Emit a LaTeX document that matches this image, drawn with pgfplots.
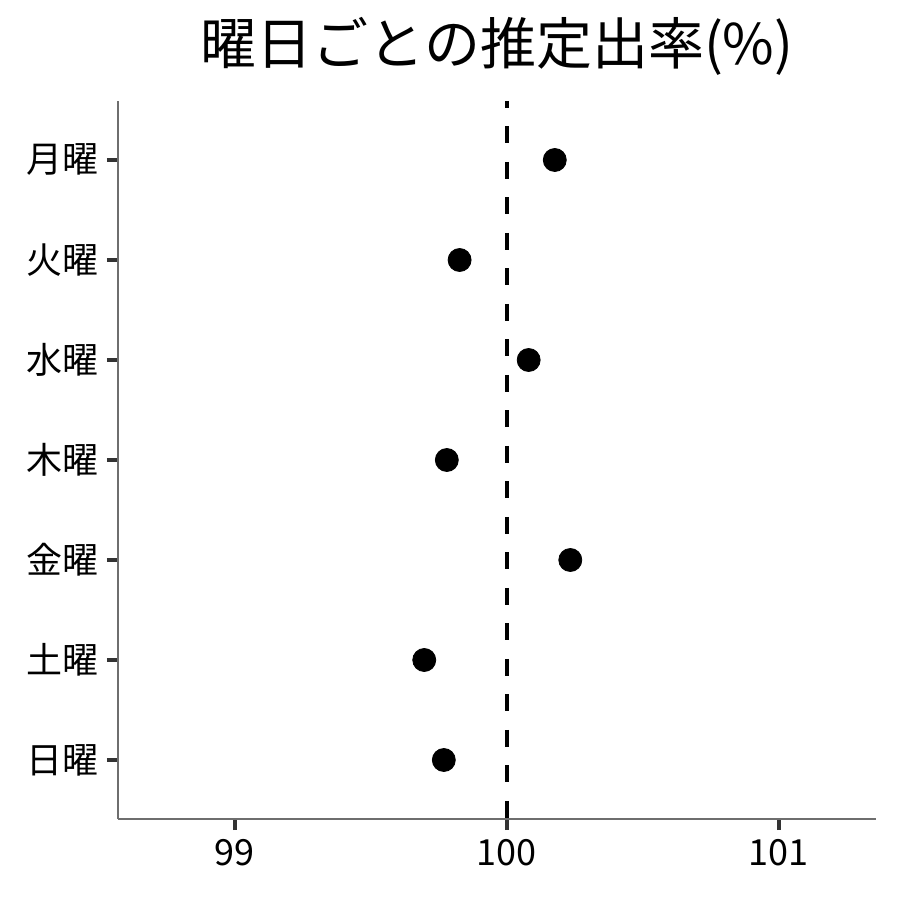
\documentclass[border=0pt]{standalone}
\usepackage{fontspec}
\setmainfont{Noto Sans CJK JP}
\usepackage{pgfplots}
\pgfplotsset{compat=1.18}
\definecolor{axisgray}{HTML}{6E6E6E}
\definecolor{tickgray}{HTML}{333333}

\begin{document}
\begin{tikzpicture}
\begin{axis}[
    name=ax,
    at={(0,0)}, anchor=south west,
    scale only axis,
    width=379pt, height=359pt,
    xmin=98.57, xmax=101.357,
    ymin=0.41, ymax=7.59,
    axis x line*=bottom,
    axis y line*=left,
    axis line style={axisgray, line width=0.65pt},
    xtick={99,100,101},
    ytick={1,2,3,4,5,6,7},
    yticklabels={日曜,土曜,金曜,木曜,水曜,火曜,月曜},
    tick align=outside,
    major tick length=5.5pt,
    tick style={tickgray, line width=1.6pt},
    /pgf/number format/assume math mode=true,
    tick label style={font=\fontsize{18}{18}\selectfont, black},
    xticklabel style={yshift=-1pt},
    yticklabel style={xshift=-0.5pt},
    clip=true,
]
% reference line at 100
\addplot[black, line width=2pt, dash pattern=on 8.5pt off 9.25pt, dash phase=5.1pt] coordinates {(100,7.59) (100,0.41)};
% estimated rate per weekday (1 = Sunday ... 7 = Monday)
\addplot[only marks, mark=*, mark size=5.75pt, black] coordinates {
    (99.768,1)
    (99.696,2)
    (100.233,3)
    (99.779,4)
    (100.080,5)
    (99.826,6)
    (100.176,7)
};
\end{axis}
\node[anchor=base, yshift=18pt, font=\fontsize{28}{28}\selectfont] at (ax.north) {曜日ごとの推定出率(\%)};
\pgfresetboundingbox
\path[use as bounding box] (ax.south west) ++(-59pt,-40.5pt) rectangle ++(450pt,450pt);
\end{tikzpicture}
\end{document}
